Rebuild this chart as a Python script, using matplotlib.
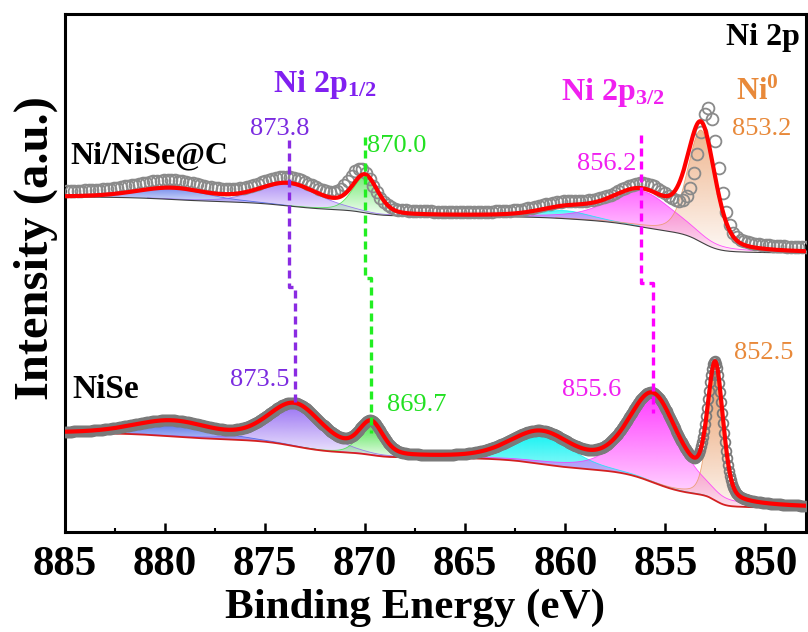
import numpy as np
import matplotlib
matplotlib.use("Agg")
import matplotlib.pyplot as plt
from matplotlib.colors import to_rgb

plt.rcParams["font.family"] = ["Liberation Serif", "DejaVu Serif"]
plt.rcParams["mathtext.fontset"] = "custom"
plt.rcParams["mathtext.rm"] = "Liberation Serif"
plt.rcParams["mathtext.it"] = "Liberation Serif:italic"
plt.rcParams["mathtext.bf"] = "Liberation Serif:bold"

# ---- fitted components (order: sat 2p1/2, Ni2+ 2p1/2, Ni0 2p1/2, sat 2p3/2, Ni2+ 2p3/2, Ni0 2p3/2)
peak_colors = ["#3D5DE6", "#8E62F2", "#3FE23F", "#00F2F2", "#FF2BFF", "#E8965E"]
peak_eta = [0.3, 0.3, 0.3, 0.3, 0.5, 0.3]

# NiSe
nise_center = [879.6, 873.5, 869.7, 861.2, 855.6, 852.5]
nise_height = [15, 42, 31, 30, 88, 128]
nise_fwhm = [4.5, 3.2, 1.4, 3.6, 3.0, 0.9]
nise_bg = [24, 99]            # Shirley end points (low BE, high BE)

# Ni/NiSe@C
comp_center = [879.6, 873.8, 870.0, 860.0, 856.2, 853.2]
comp_height = [11, 22, 36, 8, 36, 112]
comp_fwhm = [4.2, 3.6, 1.5, 3.0, 3.8, 1.6]
comp_bg = [279, 335]

# Ni/NiSe@C raw counts (peak description of the measured points)
comp_raw_center = [879.6, 873.8, 870.2, 860.0, 856.0, 852.85]
comp_raw_height = [14, 24, 38, 10, 40, 123]
comp_raw_fwhm = [4.2, 3.6, 1.5, 3.0, 3.8, 1.2]
comp_raw_bg = [283, 340]

x_ticks = [885, 880, 875, 870, 865, 860, 855, 850]


def pseudo_voigt(e, c, h, w, eta):
    g = np.exp(-4 * np.log(2) * (e - c) ** 2 / w ** 2)
    lor = 1.0 / (1 + 4 * (e - c) ** 2 / w ** 2)
    return h * ((1 - eta) * g + eta * lor)


def shirley(e, signal, lo, hi):
    cum = np.concatenate([[0.0], np.cumsum(0.5 * (signal[1:] + signal[:-1]) * np.diff(e))])
    return lo + (hi - lo) * cum / cum[-1]


def build(e, centers, heights, fwhms, bg):
    comps = [pseudo_voigt(e, c, h, w, eta) for c, h, w, eta in zip(centers, heights, fwhms, peak_eta)]
    total = np.sum(comps, axis=0)
    base = shirley(e, total, bg[0], bg[1])
    return comps, base, base + total


def gradient_fill(ax, x, lo, hi, color, a_top, a_bot, z):
    poly = ax.fill_between(x, lo, hi, facecolor="none", edgecolor="none", zorder=z)
    img = np.zeros((256, 1, 4))
    img[..., :3] = to_rgb(color)
    img[:, 0, 3] = np.linspace(a_bot, a_top, 256)
    im = ax.imshow(img, extent=[x.min(), x.max(), lo.min(), hi.max()], origin="lower",
                   aspect="auto", zorder=z, interpolation="bilinear")
    im.set_clip_path(poly.get_paths()[0], transform=ax.transData)


e = np.linspace(848, 885, 1851)

fig = plt.figure(figsize=(8.08, 6.32), dpi=100)
ax = fig.add_axes([65 / 808, 100 / 632, 740.5 / 808, 518 / 632])

spectra = [
    # centers, heights, fwhm, bg, fill alpha top/bottom, base colour/width, point step/size/colour
    (nise_center, nise_height, nise_fwhm, nise_bg, 0.92, 0.1, "#D42020", 1.3, 0.05, 7.0, "#7A7A7A",
     (nise_center, nise_height, nise_fwhm, nise_bg)),
    (comp_center, comp_height, comp_fwhm, comp_bg, 0.7, 0.06, "#404040", 0.8, 0.18, 8.5, "#8A8A8A",
     (comp_raw_center, comp_raw_height, comp_raw_fwhm, comp_raw_bg)),
]

for (cen, hei, fw, bg, a_top, a_bot, bcol, blw, step, ms, pcol, raw) in spectra:
    comps, base, env = build(e, cen, hei, fw, bg)
    for k, (comp, col) in enumerate(zip(comps, peak_colors)):
        mask = comp > 0.4
        gradient_fill(ax, e[mask], base[mask], (base + comp)[mask], col, a_top, a_bot, 2 + k * 0.01)
        ax.plot(e[mask], (base + comp)[mask], color=col, lw=0.6, alpha=0.8, zorder=2.5)
    ax.plot(e, base, color=bcol, lw=blw, zorder=3)
    # measured points
    _, _, raw_env = build(e, *raw)
    sel = np.round(np.arange(848.0, 885.0001, step), 3)
    ax.plot(sel, np.interp(sel, e, raw_env), "o", ms=ms, mfc="none", mec=pcol,
            mew=1.3, zorder=4)
    ax.plot(e, env, color="#FF0000", lw=3.0, zorder=5)

# peak guides linking the two spectra
guides = [
    ("#8A2BE2", comp_center[1], nise_center[1], 392, 245, 127),
    ("#22EE22", comp_center[2], nise_center[2], 395, 254, 99),
    ("#FF00FF", comp_center[4], nise_center[4], 397, 249, 119),
]
for col, xa, xb, ytop, ystep, yend in guides:
    ax.plot([xa, xa, xb, xb], [ytop, ystep, ystep, yend], color=col, lw=2.4,
            ls=(0, (2.4, 1.5)), zorder=6)

num_fs = 19
ax.text(875.75, 397, "873.8", color="#7B2BE0", fontsize=num_fs, zorder=7)
ax.text(869.9, 380, "870.0", color="#22E022", fontsize=num_fs, zorder=7)
ax.text(859.4, 362, "856.2", color="#F020F0", fontsize=num_fs, zorder=7)
ax.text(851.65, 397, "853.2", color="#E8893A", fontsize=num_fs, zorder=7)
ax.text(876.75, 146, "873.5", color="#7B2BE0", fontsize=num_fs, zorder=7)
ax.text(868.9, 121, "869.7", color="#22E022", fontsize=num_fs, zorder=7)
ax.text(860.15, 136, "855.6", color="#F020F0", fontsize=num_fs, zorder=7)
ax.text(851.55, 173, "852.5", color="#E8893A", fontsize=num_fs, zorder=7)

ax.text(874.6, 440, r"Ni 2p$_{\mathbf{1/2}}$", color="#8020F0", fontsize=23,
        fontweight="bold", zorder=7)
ax.text(860.2, 432, r"Ni 2p$_{\mathbf{3/2}}$", color="#F020F0", fontsize=23,
        fontweight="bold", zorder=7)
ax.text(851.95, 487, "Ni 2p", color="black", fontsize=23, fontweight="bold", zorder=7)
ax.text(851.45, 432, r"Ni$^{\mathbf{0}}$", color="#E8893A", fontsize=22,
        fontweight="bold", zorder=7)
ax.text(884.75, 369, "Ni/NiSe@C", color="black", fontsize=23, fontweight="bold", zorder=7)
ax.text(884.65, 134, "NiSe", color="black", fontsize=24, fontweight="bold", zorder=7)

ax.set_xlim(885, 848)
ax.set_ylim(0, 518)
ax.set_yticks([])
ax.set_xticks(x_ticks)
ax.set_xticks(np.arange(850, 885.1, 2.5), minor=True)
ax.tick_params(axis="x", which="major", direction="in", length=6.5, width=1.8,
               labelsize=31, pad=10)
ax.tick_params(axis="x", which="minor", direction="in", length=3, width=1.5)
for lab in ax.get_xticklabels():
    lab.set_fontweight("bold")
for sp in ax.spines.values():
    sp.set_linewidth(2.2)

ax.set_xlabel("Binding Energy (eV)", fontsize=31, fontweight="bold")
ax.xaxis.set_label_coords(0.472, -0.11)
ax.set_ylabel("Intensity (a.u.)", fontsize=35, fontweight="bold")
ax.yaxis.set_label_coords(-0.01, 0.548)

fig.savefig("out.png", dpi=100)
